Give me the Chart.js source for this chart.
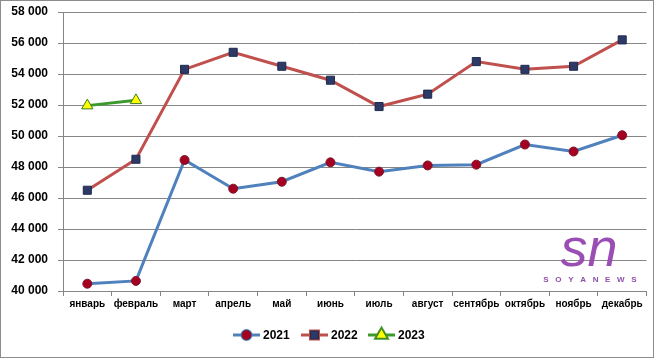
<!DOCTYPE html>
<html>
<head>
<meta charset="utf-8">
<script src="https://cdn.jsdelivr.net/npm/chart.js@4.4.0/dist/chart.umd.min.js"></script>
<style>
  html, body { margin: 0; padding: 0; background: #fff; }
  #wrap { width: 654px; height: 358px; position: relative; }
</style>
</head>
<body>
<div id="wrap"><canvas id="chart" width="654" height="358"></canvas></div>
<script>
// Données
const months = ['январь', 'февраль', 'март', 'апрель', 'май', 'июнь', 'июль', 'август', 'сентябрь', 'октябрь', 'ноябрь', 'декабрь'];
const values2021 = [40470, 40650, 48450, 46600, 47050, 48300, 47700, 48100, 48150, 49450, 49000, 50050];
const values2022 = [46500, 48500, 54300, 55400, 54500, 53600, 51900, 52700, 54800, 54300, 54500, 56200];
const values2023 = [51960, 52300];
const seriesNames = ['2021', '2022', '2023'];

const fontFamily = "'Liberation Sans', Arial, sans-serif";

// Légende + filigrane + cadre dessinés à la main
const extras = {
    id: 'extras',
    afterDraw(chart) {
        const ctx = chart.ctx;
        ctx.save();
        // cadre
        ctx.strokeStyle = '#8c8c8c';
        ctx.lineWidth = 1;
        ctx.strokeRect(0.5, 0.5, 653, 357);

        // légende
        const y = 335;
        const items = [
            { x: 233, ds: chart.data.datasets[0] },
            { x: 301, ds: chart.data.datasets[1] },
            { x: 368, ds: chart.data.datasets[2] }
        ];
        items.forEach(it => {
            const ds = it.ds;
            ctx.strokeStyle = ds.borderColor;
            ctx.lineWidth = 3;
            ctx.beginPath();
            ctx.moveTo(it.x, y);
            ctx.lineTo(it.x + 27, y);
            ctx.stroke();
            Chart.helpers.drawPoint(ctx, {
                pointStyle: ds.pointStyle,
                radius: ds.pointRadius,
                borderWidth: 1
            }, it.x + 13.5, y);
            ctx.fillStyle = ds.pointBackgroundColor;
            ctx.strokeStyle = ds.pointBorderColor;
            ctx.lineWidth = 1;
            ctx.fill();
            ctx.stroke();
            ctx.fillStyle = '#000';
            ctx.font = 'bold 12px ' + fontFamily;
            ctx.textBaseline = 'middle';
            ctx.textAlign = 'left';
            ctx.fillText(ds.label, it.x + 30, y + 1);
        });

        // filigrane
        ctx.fillStyle = '#9a4db3';
        ctx.font = 'italic 54px ' + fontFamily;
        ctx.textAlign = 'center';
        ctx.textBaseline = 'alphabetic';
        ctx.fillText('sn', 589, 266);
        ctx.font = 'bold 8px ' + fontFamily;
        ctx.fillStyle = '#8e4fa8';
        ctx.fillText('S   O   Y   A   N   E   W   S', 590, 282);
        ctx.restore();
    }
};

const ctx = document.getElementById('chart').getContext('2d');
new Chart(ctx, {
    type: 'line',
    data: {
        labels: months,
        datasets: [{
            label: seriesNames[0],
            data: values2021,
            borderColor: '#4f81bd',
            borderWidth: 3,
            pointStyle: 'circle',
            pointRadius: 4.5,
            pointBackgroundColor: '#a50021',
            pointBorderColor: '#7a1a2a',
            pointBorderWidth: 1,
            tension: 0
        }, {
            label: seriesNames[1],
            data: values2022,
            borderColor: '#c0504d',
            borderWidth: 3,
            pointStyle: 'rect',
            pointRadius: 5.7,
            pointBackgroundColor: '#2e3a66',
            pointBorderColor: '#1f2a50',
            pointBorderWidth: 1,
            tension: 0
        }, {
            label: seriesNames[2],
            data: values2023,
            borderColor: '#3c9a2d',
            borderWidth: 3,
            pointStyle: 'triangle',
            pointRadius: 6.5,
            pointBackgroundColor: '#ffff00',
            pointBorderColor: '#3c7a20',
            pointBorderWidth: 1,
            tension: 0
        }]
    },
    options: {
        responsive: false,
        animation: false,
        layout: { padding: { left: 4, right: 4, top: 12, bottom: 46 } },
        plugins: {
            legend: { display: false },
            tooltip: { enabled: false }
        },
        scales: {
            x: {
                offset: true,
                grid: {
                    offset: true,
                    drawOnChartArea: false,
                    color: '#868686',
                    tickLength: 5
                },
                border: { color: '#868686' },
                ticks: {
                    color: '#000',
                    font: { family: fontFamily, size: 10, weight: 'bold' },
                    maxRotation: 0,
                    autoSkip: false,
                    padding: 2
                }
            },
            y: {
                min: 40000,
                max: 58000,
                afterFit(scale) {
                    scale.width = 59;
                    scale.paddingTop = 0;
                    scale.paddingBottom = 0;
                },
                grid: { color: '#868686', tickLength: 5 },
                border: { color: '#868686' },
                ticks: {
                    stepSize: 2000,
                    color: '#000',
                    padding: 10,
                    font: { family: fontFamily, size: 12, weight: 'bold' },
                    callback: v => String(v).replace(/\B(?=(\d{3})+(?!\d))/g, ' ')
                }
            }
        }
    },
    plugins: [extras]
});
</script>
</body>
</html>
